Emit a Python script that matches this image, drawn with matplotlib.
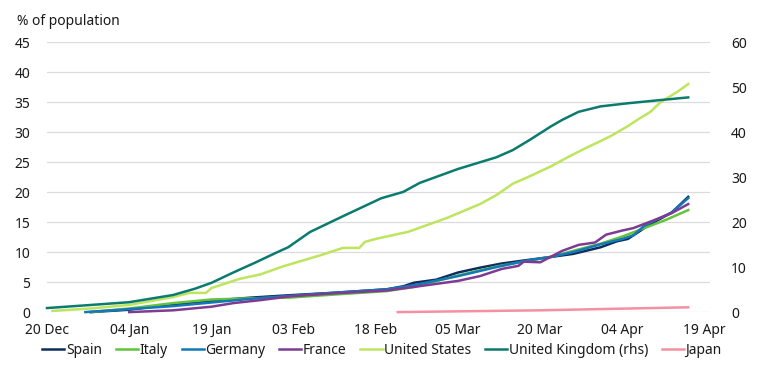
import pandas as pd
import matplotlib
matplotlib.use('Agg')
import matplotlib.pyplot as plt
import matplotlib.dates as mdates

# ==============================================================================
# data (% of population)
# ==============================================================================

spain_dates = ['2020-12-28', '2021-01-04', '2021-01-12', '2021-01-19', '2021-01-26', '2021-02-02',
               '2021-02-10', '2021-02-20', '2021-02-23', '2021-02-25', '2021-03-01', '2021-03-05',
               '2021-03-09', '2021-03-13', '2021-03-17', '2021-03-22', '2021-03-26', '2021-03-31',
               '2021-04-03', '2021-04-05', '2021-04-08', '2021-04-10', '2021-04-13', '2021-04-16']
spain_vals = [0.0, 0.4, 1.3, 1.9, 2.4, 2.8,
              3.2, 3.8, 4.3, 4.9, 5.4, 6.6,
              7.4, 8.1, 8.6, 9.2, 9.7, 10.8,
              11.8, 12.2, 14.0, 15.1, 16.6, 19.2]

italy_dates = ['2020-12-28', '2021-01-04', '2021-01-12', '2021-01-19', '2021-01-26', '2021-02-02',
               '2021-02-10', '2021-02-20', '2021-02-25', '2021-03-05', '2021-03-12', '2021-03-17',
               '2021-03-22', '2021-03-26', '2021-03-31', '2021-04-04', '2021-04-08', '2021-04-12',
               '2021-04-16']
italy_vals = [0.0, 0.6, 1.5, 2.1, 2.3, 2.4,
              2.9, 3.5, 4.2, 6.1, 7.6, 8.4,
              9.2, 10.2, 11.4, 12.6, 14.0, 15.4,
              17.0]

germany_dates = ['2020-12-27', '2021-01-04', '2021-01-12', '2021-01-19', '2021-01-26', '2021-02-02',
                 '2021-02-10', '2021-02-20', '2021-02-25', '2021-03-05', '2021-03-12', '2021-03-17',
                 '2021-03-22', '2021-03-26', '2021-03-31', '2021-04-04', '2021-04-06', '2021-04-08',
                 '2021-04-10', '2021-04-13', '2021-04-16']
germany_vals = [0.0, 0.5, 1.0, 1.6, 2.2, 2.7,
                3.2, 3.8, 4.5, 6.0, 7.5, 8.5,
                9.2, 10.0, 11.3, 12.2, 12.8, 14.4,
                15.3, 16.6, 19.0]

france_dates = ['2021-01-04', '2021-01-12', '2021-01-19', '2021-01-23', '2021-01-28', '2021-02-02',
                '2021-02-10', '2021-02-20', '2021-02-25', '2021-03-05', '2021-03-09', '2021-03-13',
                '2021-03-16', '2021-03-17', '2021-03-20', '2021-03-24', '2021-03-27', '2021-03-30',
                '2021-04-01', '2021-04-04', '2021-04-06', '2021-04-10', '2021-04-13', '2021-04-16']
france_vals = [0.0, 0.3, 0.9, 1.5, 2.0, 2.6,
               3.1, 3.6, 4.2, 5.2, 6.0, 7.2,
               7.7, 8.4, 8.3, 10.2, 11.2, 11.6,
               12.9, 13.6, 14.0, 15.4, 16.5, 18.0]

us_dates = ['2020-12-21', '2020-12-28', '2021-01-04', '2021-01-12', '2021-01-15', '2021-01-18',
            '2021-01-19', '2021-01-24', '2021-01-28', '2021-02-01', '2021-02-08', '2021-02-12',
            '2021-02-15', '2021-02-16', '2021-02-18', '2021-02-24', '2021-03-03', '2021-03-09',
            '2021-03-12', '2021-03-15', '2021-03-18', '2021-03-22', '2021-03-25', '2021-03-28',
            '2021-03-31', '2021-04-02', '2021-04-05', '2021-04-07', '2021-04-09', '2021-04-11',
            '2021-04-14', '2021-04-16']
us_vals = [0.2, 0.6, 1.2, 2.5, 3.2, 3.2,
           4.0, 5.5, 6.3, 7.6, 9.5, 10.7,
           10.7, 11.7, 12.2, 13.4, 15.7, 18.0,
           19.5, 21.4, 22.6, 24.3, 25.8, 27.2,
           28.5, 29.4, 31.0, 32.2, 33.3, 35.0,
           36.7, 38.0]

uk_dates = ['2020-12-20', '2020-12-27', '2021-01-04', '2021-01-12', '2021-01-16', '2021-01-19',
            '2021-01-23', '2021-01-27', '2021-01-31', '2021-02-02', '2021-02-06', '2021-02-12',
            '2021-02-19', '2021-02-23', '2021-02-26', '2021-03-05', '2021-03-12', '2021-03-15',
            '2021-03-18', '2021-03-22', '2021-03-24', '2021-03-27', '2021-03-31', '2021-04-05',
            '2021-04-10', '2021-04-16']
uk_vals = [0.9, 1.5, 2.2, 3.8, 5.2, 6.5,
           8.8, 11.0, 13.3, 14.4, 17.8, 21.3,
           25.3, 26.7, 28.7, 31.8, 34.4, 36.0,
           38.2, 41.3, 42.7, 44.5, 45.7, 46.4,
           47.0, 47.7]

japan_dates = ['2021-02-22', '2021-03-20', '2021-04-16']
japan_vals = [0.0, 0.3, 0.8]

left_ticks = [0, 5, 10, 15, 20, 25, 30, 35, 40, 45]
right_ticks = [0, 10, 20, 30, 40, 50, 60]
date_ticks = pd.date_range('2020-12-20', '2021-04-19', freq='15D')

# ==============================================================================
# plotting
# ==============================================================================

plt.rcParams['font.family'] = ['Noto Sans', 'DejaVu Sans']
plt.rcParams['font.size'] = 10
text_col = '#1a1a1a'

fig = plt.figure(figsize=(7.64, 3.72), dpi=100)
ax = fig.add_axes([0.0615, 0.161, 0.868, 0.726])
ax2 = ax.twinx()

ax.set_ylim(0, 45)
ax2.set_ylim(0, 60)
ax.set_yticks(left_ticks)
ax2.set_yticks(right_ticks)
ax.grid(axis='y', color='#dcdcdc', linewidth=0.9)
ax.set_axisbelow(True)

lw = 1.8
handles = []
series = [
    ('Spain', spain_dates, spain_vals, '#0d2d5e', ax),
    ('Italy', italy_dates, italy_vals, '#63c33c', ax),
    ('Germany', germany_dates, germany_vals, '#1478b8', ax),
    ('France', france_dates, france_vals, '#7d3c92', ax),
    ('United States', us_dates, us_vals, '#bde55e', ax),
    ('United Kingdom (rhs)', uk_dates, uk_vals, '#0b7b6f', ax2),
    ('Japan', japan_dates, japan_vals, '#f590a2', ax),
]
for name, d, v, c, a in series:
    h, = a.plot(pd.to_datetime(d), v, color=c, lw=lw, label=name, clip_on=False,
                solid_joinstyle='round')
    handles.append(h)

ax.set_xlim(pd.Timestamp('2020-12-20'), pd.Timestamp('2021-04-20'))
ax.set_xticks(date_ticks)
ax.xaxis.set_major_formatter(mdates.DateFormatter('%d %b'))

for a in (ax, ax2):
    for s in a.spines.values():
        s.set_visible(False)
    a.tick_params(length=0, colors=text_col, labelsize=10)
ax.tick_params(axis='y', pad=12)
ax2.tick_params(axis='y', pad=15)
ax.tick_params(axis='x', pad=8)

fig.text(0.022, 0.943, '% of population', fontsize=10, color=text_col, va='center')

fig.legend(handles=handles, loc='center', bbox_to_anchor=(0.5, 1 - 350 / 372), ncol=7,
           frameon=False, handlelength=1.6, handletextpad=0.1, columnspacing=1.0,
           fontsize=10, labelcolor=text_col)

fig.savefig('out.png', dpi=100)
